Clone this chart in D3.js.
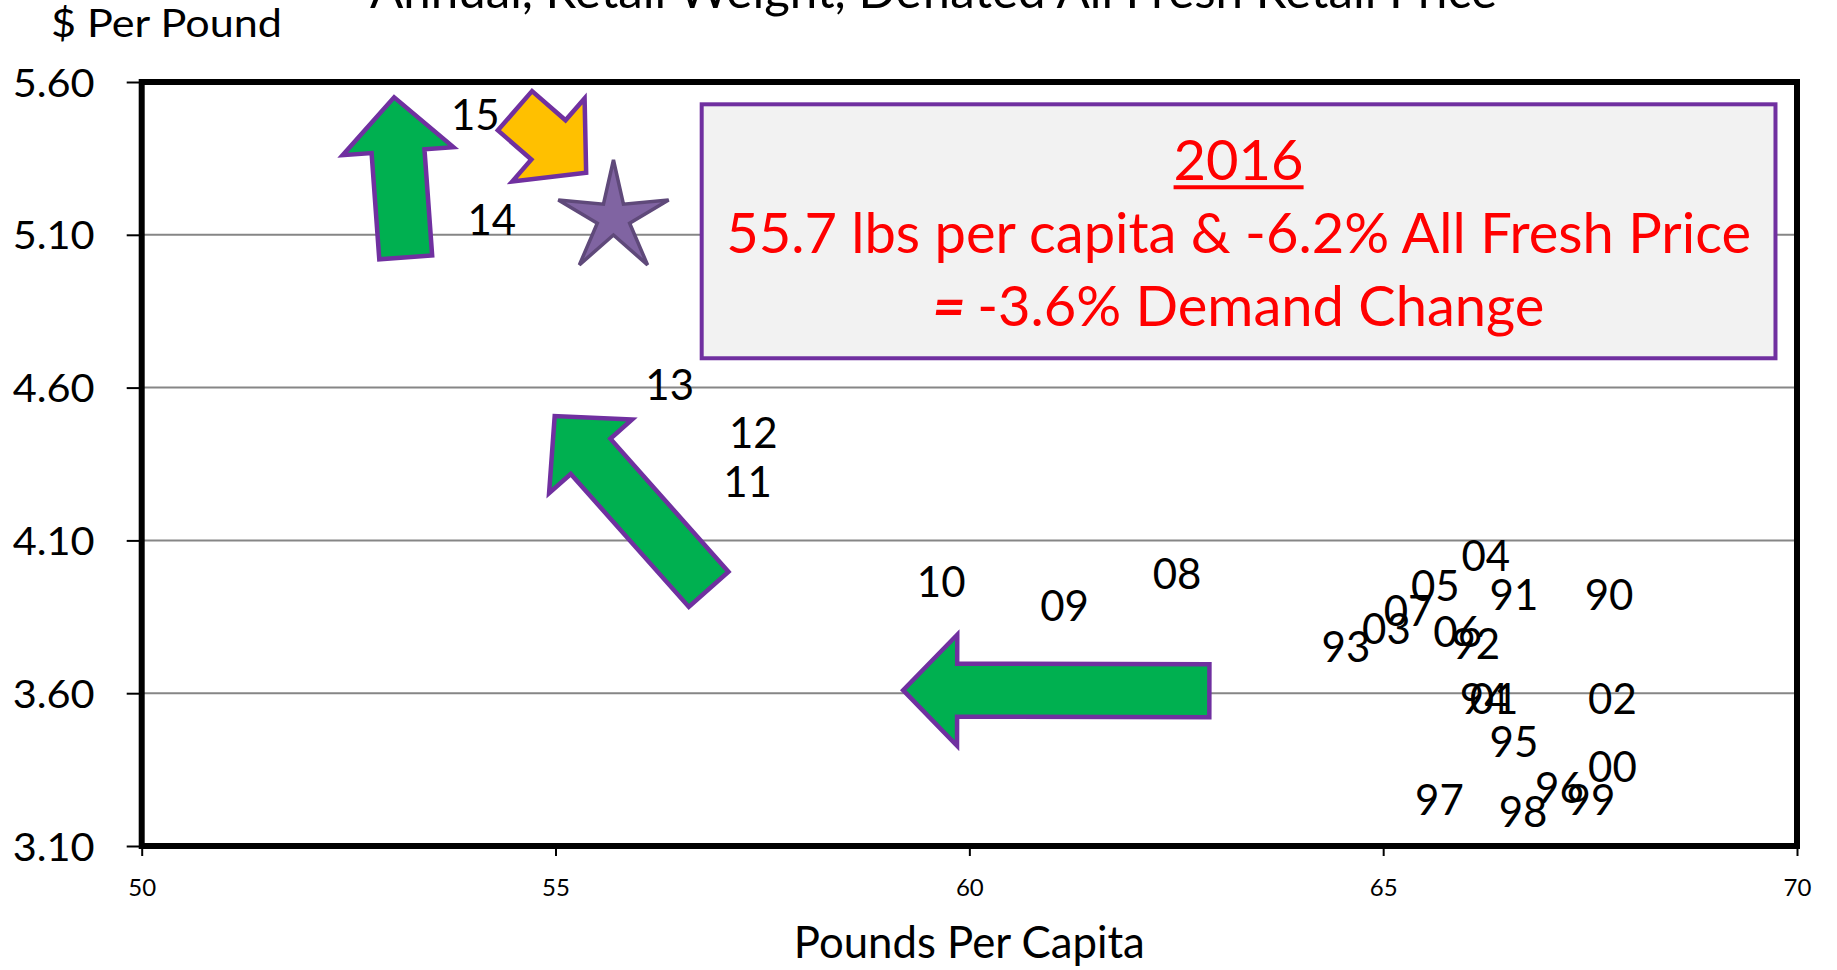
<!DOCTYPE html>
<html><head><meta charset="utf-8">
<script src="https://cdn.jsdelivr.net/npm/d3@7"></script>
<style>body{margin:0;background:#fff;overflow:hidden} svg{display:block}</style>
</head><body>
<script>
// ---- data ----
const years  = ["90","91","92","93","94","95","96","97","98","99","00","01","02","03","04","05","06","07","08","09","10","11","12","13","14","15"];
const pounds = [67.73,66.58,66.12,64.55,66.22,66.58,67.13,65.68,66.69,67.51,67.77,66.34,67.77,65.04,66.24,65.63,65.90,65.30,62.51,61.15,59.66,57.32,57.39,56.38,54.23,54.03];
const prices = [3.92,3.92,3.76,3.75,3.58,3.44,3.29,3.25,3.21,3.25,3.36,3.58,3.58,3.81,4.05,3.95,3.80,3.87,3.99,3.885,3.965,4.29,4.45,4.61,5.148,5.492];
const star2016 = [55.7, 5.155];
const xTicks = [50,55,60,65,70];
const yTicks = [3.10,3.60,4.10,4.60,5.10,5.60];
const gridVals = [3.60,4.10,4.60,5.10];
const titleText = "Annual, Retail Weight, Deflated All Fresh Retail Price";
const yTitle = "$ Per Pound";
const xTitle = "Pounds Per Capita";
const boxLines = ["2016","55.7 lbs per capita & -6.2% All Fresh Price","-3.6% Demand Change"];
// annotation arrows in data units: [tailX, tailY, tipX, tipY]
const arrowsGreen = [
  [53.19,5.026,53.05,5.55],
  [56.85,3.940,54.99,4.507],
  [62.90,3.608,59.20,3.610]
];
const arrowYellow = [54.51,5.506,55.37,5.303];
const boxExtent = [56.766,5.527,69.74,4.696];

// ---- chart ----
const W=1837,H=970;
const FONT="Lato, 'Open Sans', sans-serif";
const svg=d3.select("body").append("svg").attr("width",W).attr("height",H);
const x=d3.scaleLinear().domain([50,70]).range([141.7,1797]);
const y=d3.scaleLinear().domain([3.1,5.6]).range([846,82]);

function fitWidth(sel,w){const n=sel.node();const cur=n.getComputedTextLength();const fs=parseFloat(sel.attr("font-size"));sel.attr("font-size",fs*w/cur);return fs*w/cur;}

// title (mostly cut off at top)
const t=svg.append("text").attr("x",370).attr("y",8).attr("font-family",FONT).attr("font-size",48).attr("fill","#000").text(titleText);
fitWidth(t,1127);

// y title
svg.append("text").attr("x",51).attr("y",37).attr("font-family",FONT).attr("font-size",39)
  .attr("textLength",231).attr("lengthAdjust","spacingAndGlyphs").text(yTitle);

// gridlines
svg.append("g").selectAll("line").data(gridVals).join("line")
  .attr("x1",x(50)).attr("x2",x(70)).attr("y1",d=>y(d)).attr("y2",d=>y(d))
  .attr("stroke","#868686").attr("stroke-width",2);

// y axis
const ya=svg.append("g").attr("transform",`translate(${x(50)},0)`)
  .call(d3.axisLeft(y).tickValues(yTicks).tickSize(15).tickPadding(32).tickFormat(d3.format(".2f")));
ya.select(".domain").remove();
ya.selectAll(".tick line").attr("stroke","#000").attr("stroke-width",2);
ya.selectAll(".tick text").attr("font-family",FONT).attr("font-size",39).attr("fill","#000")
  .attr("dy","0.36em").attr("textLength",82).attr("lengthAdjust","spacingAndGlyphs");

// x axis
const xa=svg.append("g").attr("transform",`translate(0,${y(3.1)})`)
  .call(d3.axisBottom(x).tickValues(xTicks).tickSize(10).tickFormat(d3.format("d")));
xa.select(".domain").remove();
xa.selectAll(".tick line").attr("stroke","#000").attr("stroke-width",2);
xa.selectAll(".tick text").attr("font-family",FONT).attr("font-size",24).attr("fill","#000").attr("y",50).attr("dy","0");

// x title
const xt=svg.append("text").attr("x",(x(50)+x(70))/2).attr("y",958).attr("text-anchor","middle")
  .attr("font-family",FONT).attr("font-size",42).text(xTitle);
fitWidth(xt,351);

// frame
svg.append("rect").attr("x",x(50)).attr("y",y(5.6)).attr("width",x(70)-x(50)).attr("height",y(3.1)-y(5.6))
  .attr("fill","none").attr("stroke","#000").attr("stroke-width",6);

// arrows
function arrowPath(a,sw,hw,hl){
  const tx=x(a[0]),ty=y(a[1]),px=x(a[2]),py=y(a[3]);
  const dx=px-tx,dy=py-ty,L=Math.hypot(dx,dy),ux=dx/L,uy=dy/L,nx=-uy,ny=ux;
  const bx=px-ux*hl,by=py-uy*hl;
  const pts=[[tx+nx*sw,ty+ny*sw],[bx+nx*sw,by+ny*sw],[bx+nx*hw,by+ny*hw],[px,py],[bx-nx*hw,by-ny*hw],[bx-nx*sw,by-ny*sw],[tx-nx*sw,ty-ny*sw]];
  return "M"+pts.map(p=>p.join(",")).join("L")+"Z";
}
svg.append("g").selectAll("path").data(arrowsGreen).join("path")
  .attr("d",d=>arrowPath(d,26.5,55.5,54)).attr("fill","#00B050").attr("stroke","#7030A0").attr("stroke-width",4.5).attr("stroke-linejoin","miter");
svg.append("path").attr("d",arrowPath(arrowYellow,26,55,50)).attr("fill","#FFC000").attr("stroke","#7030A0").attr("stroke-width",4.5);

// star for 2016
(function(){
  const cx=x(star2016[0]),cy=y(star2016[1]),R=58,r=17;const pts=[];
  for(let i=0;i<10;i++){const a=-Math.PI/2+i*Math.PI/5;const rr=i%2?r:R;pts.push([cx+rr*Math.cos(a),cy+rr*Math.sin(a)]);}
  svg.append("path").attr("d","M"+pts.map(p=>p.join(",")).join("L")+"Z").attr("fill","#8064A2").attr("stroke","#5F497A").attr("stroke-width",3.5).attr("stroke-linejoin","miter");
})();

// text box
const bx0=x(boxExtent[0]),by0=y(boxExtent[1]),bx1=x(boxExtent[2]),by1=y(boxExtent[3]);
svg.append("rect").attr("x",bx0).attr("y",by0).attr("width",bx1-bx0).attr("height",by1-by0)
  .attr("fill","#F2F2F2").attr("stroke","#7030A0").attr("stroke-width",4);
const bcx=(bx0+bx1)/2;
const l2=svg.append("text").attr("x",bcx).attr("y",by0+149).attr("text-anchor","middle").attr("font-family",FONT)
  .attr("font-size",54).attr("fill","#FF0000").text(boxLines[1]);
const bfs=fitWidth(l2,1025);
const l1=svg.append("text").attr("x",bcx).attr("y",by0+76).attr("text-anchor","middle").attr("font-family",FONT)
  .attr("font-size",bfs).attr("fill","#FF0000").text(boxLines[0]);
const bb=l1.node().getBBox();
svg.append("line").attr("x1",bb.x).attr("x2",bb.x+bb.width).attr("y1",by0+83).attr("y2",by0+83).attr("stroke","#FF0000").attr("stroke-width",4);
const l3=svg.append("text").attr("x",bcx).attr("y",by0+222).attr("text-anchor","middle").attr("font-family",FONT)
  .attr("font-size",bfs).attr("fill","#FF0000");
l3.append("tspan").attr("font-weight","900").attr("font-style","italic").text("= ");
l3.append("tspan").text(boxLines[2]);

// data labels
const LFS=42;
svg.append("g").selectAll("text").data(years).join("text")
  .attr("x",(d,i)=>x(pounds[i])).attr("y",(d,i)=>y(prices[i])+0.358*LFS)
  .attr("text-anchor","middle").attr("font-family",FONT).attr("font-size",LFS).attr("fill","#000").text(d=>d);
</script>
</body></html>
